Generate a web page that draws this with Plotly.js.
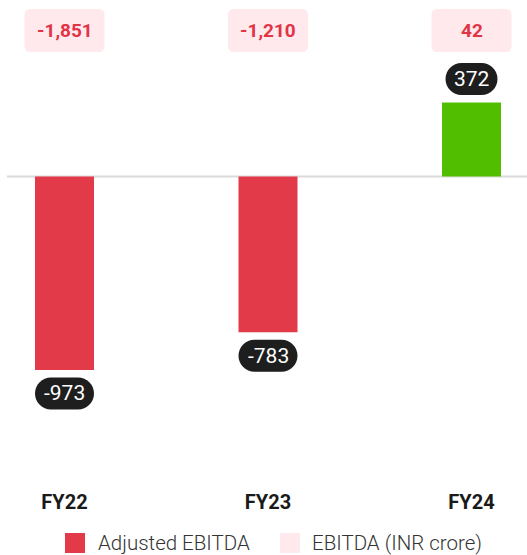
<!DOCTYPE html>
<html>
<head>
<meta charset="utf-8">
<script src="https://cdn.plot.ly/plotly-3.0.1.min.js"></script>
<style>html,body{margin:0;padding:0;background:#fff;}#chart{width:527px;height:555px;}</style>
</head>
<body>
<div id="chart"></div>
<script>
// ---- data ----
const categories = ["FY22", "FY23", "FY24"];
const adjustedEbitda = [-973, -783, 372];
const ebitda = [-1851, -1210, 42];
const seriesNames = ["Adjusted EBITDA", "EBITDA (INR crore)"];

// ---- styles ----
const RED = "#E33A4A", GREEN = "#52BE00", PINK = "#FFE9EC", TXTRED = "#E13447", PILL = "#1E1E1E";
const FONT = "Roboto, 'Open Sans', sans-serif";
const W = 527, H = 555, PLOT_H = 488;

const xIdx = categories.map((c, i) => i);
const fmt = v => (v < 0 ? "-" : "") + Math.abs(v).toLocaleString("en-US");

function rr(x0, x1, y0, y1, rx, ry) {
  return `M${x0 + rx},${y0} H${x1 - rx} Q${x1},${y0} ${x1},${y0 + ry} V${y1 - ry} Q${x1},${y1} ${x1 - rx},${y1} H${x0 + rx} Q${x0},${y1} ${x0},${y1 - ry} V${y0 + ry} Q${x0},${y0} ${x0 + rx},${y0} Z`;
}
function pill(x0, x1, y0, y1) {
  // stadium shape with cubic approximated semicircle ends
  const r = (y1 - y0) / 2, k = 0.5523 * r, cy = (y0 + y1) / 2;
  return `M${x0 + r},${y0} H${x1 - r} C${x1 - r + k},${y0} ${x1},${cy - k} ${x1},${cy} C${x1},${cy + k} ${x1 - r + k},${y1} ${x1 - r},${y1} H${x0 + r} C${x0 + r - k},${y1} ${x0},${cy + k} ${x0},${cy} C${x0},${cy - k} ${x0 + r - k},${y0} ${x0 + r},${y0} Z`;
}

const shapes = [];
const annotations = [];

// zero line
shapes.push({type: "line", layer: "below", xref: "paper", yref: "y", x0: 7 / W, x1: 1, y0: 0, y1: 0,
  line: {color: "#DADADA", width: 2}});

// value pills for adjusted EBITDA
adjustedEbitda.forEach((v, i) => {
  const sign = v >= 0 ? 1 : -1;
  const txt = fmt(v);
  const w = 7 * txt.length + 31, h = 32, off = 23.5 * sign;
  shapes.push({type: "path", xref: "x", yref: "y", xsizemode: "pixel", ysizemode: "pixel",
    xanchor: xIdx[i], yanchor: v,
    path: pill(-w / 2, w / 2, off - h / 2, off + h / 2),
    fillcolor: PILL, line: {width: 0}});
  annotations.push({x: xIdx[i], y: v, xref: "x", yref: "y", yshift: off, text: txt, showarrow: false,
    xanchor: "center", yanchor: "middle", font: {family: FONT, size: 21, color: "#fff", weight: 400}});
});

// EBITDA pink boxes at top
ebitda.forEach((v, i) => {
  const w = 80, top = 9, bot = 52, r = 6;
  shapes.push({type: "path", xref: "x", yref: "paper", xsizemode: "pixel", xanchor: xIdx[i],
    path: rr(-w / 2, w / 2, 1 - bot / PLOT_H, 1 - top / PLOT_H, r, r / PLOT_H),
    fillcolor: PINK, line: {width: 0}});
  annotations.push({x: xIdx[i], y: 1, xref: "x", yref: "paper", yshift: -30.5, text: fmt(v), showarrow: false,
    xanchor: "center", yanchor: "middle", font: {family: FONT, size: 19, color: TXTRED, weight: 700}});
});

// manual legend
const legendItems = [{name: seriesNames[0], color: RED, x: 65, tx: 96}, {name: seriesNames[1], color: PINK, x: 280, tx: 310}];
legendItems.forEach(it => {
  shapes.push({type: "rect", xref: "paper", yref: "paper", x0: it.x / W, x1: (it.x + 20) / W,
    y0: -(533 - PLOT_H) / PLOT_H, y1: -(553 - PLOT_H) / PLOT_H, fillcolor: it.color, line: {width: 0}});
  annotations.push({xref: "paper", yref: "paper", x: it.tx / W, y: -(543 - PLOT_H) / PLOT_H, text: it.name,
    showarrow: false, xanchor: "left", yanchor: "middle",
    font: {family: FONT, size: 20.5, color: "#333", weight: 300}});
});

const pxPerCat = 203.5, c0 = 64.5;
const xr0 = -c0 / pxPerCat, xr1 = xr0 + W / pxPerCat;
const pxPerUnit = 0.1988, zeroPx = 176.5;
const yTop = zeroPx / pxPerUnit, yBot = -(PLOT_H - zeroPx) / pxPerUnit;

const trace = {
  type: "bar", x: xIdx, y: adjustedEbitda, name: seriesNames[0],
  marker: {color: adjustedEbitda.map(v => v >= 0 ? GREEN : RED), line: {width: 0}},
  width: 59 / pxPerCat, hoverinfo: "none", showlegend: false
};

const layout = {
  width: W, height: H,
  margin: {l: 0, r: 0, t: 0, b: H - PLOT_H, pad: 0},
  paper_bgcolor: "#fff", plot_bgcolor: "#fff",
  showlegend: false,
  xaxis: {type: "linear", range: [xr0, xr1], tickvals: xIdx, ticktext: categories, showgrid: false, zeroline: false,
    showline: false, ticks: "", ticklabelstandoff: 0,
    tickfont: {family: FONT, size: 20, color: "#1A1A1A", weight: 700}, fixedrange: true},
  yaxis: {range: [yBot, yTop], visible: false, showgrid: false, zeroline: false, fixedrange: true},
  shapes: shapes, annotations: annotations,
  font: {family: FONT}
};

Plotly.newPlot("chart", [trace], layout, {displayModeBar: false, staticPlot: true});
</script>
</body>
</html>
